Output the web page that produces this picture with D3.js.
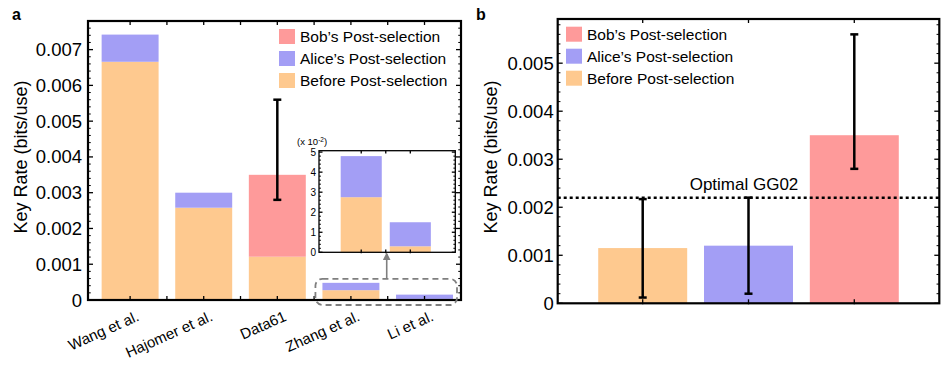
<!DOCTYPE html>
<html>
<head>
<meta charset="utf-8">
<script src="https://cdn.jsdelivr.net/npm/d3@7"></script>
<style>
  body { margin: 0; background: #fff; }
  svg { font-family: "Liberation Sans", Arial, sans-serif; }
</style>
</head>
<body>
<div id="chart"></div>
<script>
// ---- data, panel a ----
const studies = ['Wang et al.', 'Hajomer et al.', 'Data61', 'Zhang et al.', 'Li et al.'];
const beforeA = [0.00666, 0.00258, 0.00121, 0.000275, 0.00003];
const aliceA = [0.00742, 0.0030, null, 0.00048, 0.00015];   // stacked top after Alice's post-selection
const bobA = [null, null, 0.0035, null, null];              // stacked top after Bob's post-selection
const errA = [null, null, [0.0028, 0.0056], null, null];
const insetStudies = ['Zhang et al.', 'Li et al.'];

// ---- data, panel b ----
const methods = ['Before', 'Alice', 'Bob'];
const valuesB = [0.00115, 0.0012, 0.0035];
const errLowB = [0.00012, 0.0002, 0.0028];
const errHighB = [0.00217, 0.0022, 0.0056];
const gg02 = 0.0022;

const legendLabels = ['Bob\u2019s Post-selection', 'Alice\u2019s Post-selection', 'Before Post-selection'];
const colors = { before: '#fec98f', alice: '#a39ef5', bob: '#fe9a9a' };
const legendColors = [colors.bob, colors.alice, colors.before];

const width = 945;
const height = 365;

const svg = d3.select('#chart')
    .append('svg')
    .attr('width', width)
    .attr('height', height);

// frame with inward ticks on all four sides (Mathematica style)
const drawFrame = (g, x0, x1, y, xTicks, opts) => {
    const y0 = y.range()[0], y1 = y.range()[1];
    const major = y.ticks(opts.major);
    const minor = y.ticks(opts.minor).filter(v => !major.some(m => Math.abs(m - v) < 1e-12));
    const tk = g.append('g').attr('stroke', '#000');
    major.forEach(v => {
        tk.append('line').attr('x1', x0).attr('x2', x0 + opts.ml).attr('y1', y(v)).attr('y2', y(v)).attr('stroke-width', 1.3);
        tk.append('line').attr('x1', x1).attr('x2', x1 - opts.ml).attr('y1', y(v)).attr('y2', y(v)).attr('stroke-width', 1.3);
    });
    minor.forEach(v => {
        tk.append('line').attr('x1', x0).attr('x2', x0 + opts.ml * 0.55).attr('y1', y(v)).attr('y2', y(v)).attr('stroke-width', 1);
        tk.append('line').attr('x1', x1).attr('x2', x1 - opts.ml * 0.55).attr('y1', y(v)).attr('y2', y(v)).attr('stroke-width', 1);
    });
    xTicks.forEach(t => {
        tk.append('line').attr('x1', t).attr('x2', t).attr('y1', y0 + 1).attr('y2', y0 - opts.ml * 0.8).attr('stroke-width', 1.3);
        tk.append('line').attr('x1', t).attr('x2', t).attr('y1', y1).attr('y2', y1 + opts.ml * 0.8).attr('stroke-width', 1.3);
    });
    g.append('rect')
        .attr('x', x0).attr('y', y1)
        .attr('width', x1 - x0).attr('height', y0 - y1)
        .attr('fill', 'none').attr('stroke', '#000').attr('stroke-width', opts.sw);
    g.selectAll('.ylab')
        .data(major)
        .enter()
        .append('text')
        .attr('x', x0 - opts.pad)
        .attr('y', y)
        .attr('text-anchor', 'end')
        .attr('dominant-baseline', 'central')
        .style('font-size', opts.fs + 'px')
        .text(opts.fmt);
};

const errorBar = (g, cx, yLo, yHi) => {
    const e = g.append('g').attr('stroke', '#000').attr('stroke-width', 2.5);
    e.append('line').attr('x1', cx).attr('x2', cx).attr('y1', yLo).attr('y2', yHi);
    e.append('line').attr('x1', cx - 4).attr('x2', cx + 4).attr('y1', yLo).attr('y2', yLo);
    e.append('line').attr('x1', cx - 4).attr('x2', cx + 4).attr('y1', yHi).attr('y2', yHi);
};

const legend = (g, x0, y0) => {
    legendLabels.forEach((lab, i) => {
        g.append('rect')
            .attr('x', x0).attr('y', y0 + i * 22)
            .attr('width', 16).attr('height', 15)
            .attr('fill', legendColors[i]);
        g.append('text')
            .attr('x', x0 + 21).attr('y', y0 + i * 22 + 7.5)
            .attr('dominant-baseline', 'central')
            .style('font-size', '15.5px')
            .text(lab);
    });
};

const fmtRate = d => d === 0 ? '0' : d3.format('.3f')(d);

// ================= panel a =================
const ga = svg.append('g');
const xA = d3.scaleBand()
    .domain(studies)
    .range([88, 461])
    .paddingInner(0.226)
    .paddingOuter(0.147)
    .align(0.63);
const yA = d3.scaleLinear().domain([0, 0.0078]).range([300, 21]);
const bwA = xA.bandwidth();

studies.forEach((s, i) => {
    ga.append('rect')
        .attr('x', xA(s)).attr('width', bwA)
        .attr('y', yA(beforeA[i])).attr('height', yA(0) - yA(beforeA[i]))
        .attr('fill', colors.before);
    if (aliceA[i] !== null) {
        ga.append('rect')
            .attr('x', xA(s)).attr('width', bwA)
            .attr('y', yA(aliceA[i])).attr('height', yA(beforeA[i]) - yA(aliceA[i]))
            .attr('fill', colors.alice);
    }
    if (bobA[i] !== null) {
        ga.append('rect')
            .attr('x', xA(s)).attr('width', bwA)
            .attr('y', yA(bobA[i])).attr('height', yA(beforeA[i]) - yA(bobA[i]))
            .attr('fill', colors.bob);
    }
});

const gapA = xA.step() - bwA;
const xTicksA = [];
studies.forEach((s, i) => {
    xTicksA.push(xA(s) + bwA / 2);
    if (i > 0) xTicksA.push(xA(s) - gapA / 2);
});
drawFrame(ga, 88, 461, yA, xTicksA, { major: 8, minor: 40, ml: 5, sw: 2.2, pad: 6, fs: 18.5, fmt: fmtRate });

studies.forEach((s, i) => {
    if (errA[i]) errorBar(ga, xA(s) + bwA / 2, yA(errA[i][0]), yA(errA[i][1]));
});

// rotated category labels
ga.selectAll('.xlab')
    .data(studies)
    .enter()
    .append('text')
    .attr('text-anchor', 'end')
    .attr('transform', d => `translate(${xA(d) + bwA / 2 + 10},${320}) rotate(-24)`)
    .style('font-size', '15px')
    .text(d => d);

ga.append('text')
    .attr('transform', 'translate(21,157) rotate(-90)')
    .attr('text-anchor', 'middle')
    .attr('dominant-baseline', 'central')
    .style('font-size', '18px')
    .text('Key Rate (bits/use)');

ga.append('text')
    .attr('x', 12).attr('y', 20)
    .style('font-size', '16px').style('font-weight', 'bold')
    .text('a');

legend(ga, 279, 29);

// highlight box around the small bars
const zi = studies.indexOf('Zhang et al.');
const boxX0 = xA('Zhang et al.') - 7;
const boxX1 = xA('Li et al.') + bwA + 4;
ga.append('rect')
    .attr('x', boxX0).attr('y', yA(aliceA[zi]) - 4)
    .attr('width', boxX1 - boxX0).attr('height', yA(0) + 5 - (yA(aliceA[zi]) - 4))
    .attr('rx', 7)
    .attr('fill', 'none')
    .attr('stroke', '#7f7f7f')
    .attr('stroke-width', 1.8)
    .attr('stroke-dasharray', '6,4');

// inset
const gi = svg.append('g');
const xI = d3.scaleBand()
    .domain(insetStudies)
    .range([319, 455.3])
    .paddingInner(0.163)
    .paddingOuter(0.47)
    .align(0.47);
const yI = d3.scaleLinear().domain([0, 5.07e-4]).range([252.3, 150.7]);
const bwI = xI.bandwidth();
gi.append('rect').attr('x', 319).attr('y', 150.7).attr('width', 136.3).attr('height', 101.6).attr('fill', '#fff');
insetStudies.forEach(s => {
    const i = studies.indexOf(s);
    gi.append('rect')
        .attr('x', xI(s)).attr('width', bwI)
        .attr('y', yI(beforeA[i])).attr('height', yI(0) - yI(beforeA[i]))
        .attr('fill', colors.before);
    gi.append('rect')
        .attr('x', xI(s)).attr('width', bwI)
        .attr('y', yI(aliceA[i])).attr('height', yI(beforeA[i]) - yI(aliceA[i]))
        .attr('fill', colors.alice);
});
const xTicksI = [xI(insetStudies[0]) + bwI / 2, xI(insetStudies[1]) + bwI / 2,
    xI(insetStudies[1]) - (xI.step() - bwI) / 2];
drawFrame(gi, 319, 455.3, yI, xTicksI, { major: 5, minor: 25, ml: 3.5, sw: 1.3, pad: 3, fs: 10, fmt: d => d3.format('d')(d * 1e4) });

const sc = gi.append('text')
    .attr('x', 297).attr('y', 145)
    .style('font-size', '9.5px');
sc.append('tspan').text('(x 10');
sc.append('tspan').attr('dy', -3.5).style('font-size', '6.5px').text('-2');
sc.append('tspan').attr('dy', 3.5).text(')');

// arrow from the highlight box to the inset
svg.append('defs').append('marker')
    .attr('id', 'arrow')
    .attr('viewBox', '0 0 10 10')
    .attr('refX', 8).attr('refY', 5)
    .attr('markerWidth', 5).attr('markerHeight', 5)
    .attr('orient', 'auto')
    .append('path')
    .attr('d', 'M0,0 L10,5 L0,10 z')
    .attr('fill', '#7f7f7f');
const arrowX = xA('Li et al.') - gapA / 2 - 1;
ga.append('line')
    .attr('x1', arrowX).attr('x2', arrowX)
    .attr('y1', yA(aliceA[zi]) - 4).attr('y2', 254)
    .attr('stroke', '#7f7f7f').attr('stroke-width', 1.6)
    .attr('marker-end', 'url(#arrow)');

// ================= panel b =================
const gb = svg.append('g');
const xB = d3.scaleBand()
    .domain(methods)
    .range([557.7, 939.3])
    .paddingInner(0.159)
    .paddingOuter(0.383);
const yB = d3.scaleLinear().domain([0, 0.00592]).range([303.3, 19]);
const bwB = xB.bandwidth();
const colB = [colors.before, colors.alice, colors.bob];

gb.selectAll('.bar')
    .data(methods)
    .enter()
    .append('rect')
    .attr('x', d => xB(d))
    .attr('width', bwB)
    .attr('y', (d, i) => yB(valuesB[i]))
    .attr('height', (d, i) => yB(0) - yB(valuesB[i]))
    .attr('fill', (d, i) => colB[i]);

drawFrame(gb, 557.7, 939.3, yB, methods.map(d => xB(d) + bwB / 2), { major: 6, minor: 30, ml: 5, sw: 2.2, pad: 4, fs: 18.5, fmt: fmtRate });

gb.append('line')
    .attr('x1', 557.7).attr('x2', 939.3)
    .attr('y1', yB(gg02)).attr('y2', yB(gg02))
    .attr('stroke', '#000').attr('stroke-width', 2.5)
    .attr('stroke-dasharray', '3,3');
gb.append('text')
    .attr('x', 744).attr('y', yB(gg02) - 13)
    .attr('text-anchor', 'middle')
    .attr('dominant-baseline', 'central')
    .style('font-size', '17px')
    .text('Optimal GG02');

methods.forEach((d, i) => errorBar(gb, xB(d) + bwB / 2, yB(errLowB[i]), yB(errHighB[i])));

gb.append('text')
    .attr('transform', 'translate(491,157) rotate(-90)')
    .attr('text-anchor', 'middle')
    .attr('dominant-baseline', 'central')
    .style('font-size', '18px')
    .text('Key Rate (bits/use)');

gb.append('text')
    .attr('x', 476).attr('y', 20)
    .style('font-size', '16px').style('font-weight', 'bold')
    .text('b');

legend(gb, 566, 26.7);
</script>
</body>
</html>
